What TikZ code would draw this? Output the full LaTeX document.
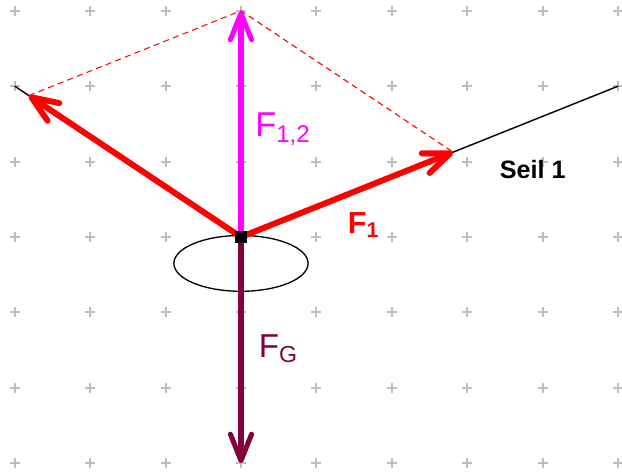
\documentclass[tikz,border=0pt]{standalone}
\usepackage{fontspec}
\setmainfont{Liberation Sans}
\usetikzlibrary{arrows.meta,shapes.geometric}
\definecolor{weight}{RGB}{128,0,64}
\definecolor{resultant}{RGB}{255,0,255}
\definecolor{gridgray}{RGB}{190,190,190}

\begin{document}
\begin{tikzpicture}[
  gridmark/.style={draw=gridgray, line width=0.7pt},
  rope/.style={black, line width=0.55pt},
  force/.style={line width=#1, line cap=round, -{Straight Barb[length=10pt, width=8pt, round]}},
  helpline/.style={red, line width=0.4pt, dash pattern=on 2.3pt off 1.6pt},
  knot/.style={fill=black, inner sep=0pt, minimum size=0.16cm}
]
  \useasboundingbox (-3.196,-3.117) rectangle (5.053,3.143);

  % grid
  \foreach \x in {-3,...,5}
    \foreach \y in {-3,...,3}
      \draw[gridmark] (\x-0.066,\y) -- ++(0.132,0) (\x,\y-0.066) -- ++(0,0.132);

  \coordinate (O) at (0,0);
  \coordinate (seilR) at (5,2);
  \coordinate (seilL) at (-3,2);
  \coordinate (F1tip) at (2.8125,1.125);
  \coordinate (F2tip) at (-2.8125,1.875);
  \coordinate (F12tip) at (0,3);
  \coordinate (FGtip) at (0,-3);

  % ropes and ring
  \draw[rope] (O) -- (seilR);
  \draw[rope] (O) -- (seilL);
  \node[draw, ellipse, line width=0.5pt, minimum width=1.78cm, minimum height=0.74cm] (ring) at (0,-0.35) {};

  % parallelogram
  \draw[helpline] (F2tip) -- (F12tip) -- (F1tip);

  % forces
  \draw[force=1.9pt, resultant] (O) -- (F12tip);
  \draw[force=1.9pt, weight] (O) -- (FGtip);
  \draw[force=2.25pt, red] (O) -- (F1tip);
  \draw[force=2.25pt, red] (O) -- (F2tip);
  \node[knot] (knot) at (O) {};

  % labels
  \node[text=resultant, font=\fontsize{13}{15}\selectfont] (lF12) at (0.56,1.43) {F\textsubscript{1,2}};
  \node[text=red, font=\fontsize{11.5}{13}\selectfont\bfseries] (lF1) at (1.63,0.16) {F\textsubscript{1}};
  \node[font=\fontsize{9.5}{11}\selectfont\bfseries] (lSeil) at (3.87,0.89) {Seil 1};
  \node[text=weight, font=\fontsize{12.5}{14}\selectfont] (lFG) at (0.5,-1.48) {F\textsubscript{G}};
\end{tikzpicture}
\end{document}
